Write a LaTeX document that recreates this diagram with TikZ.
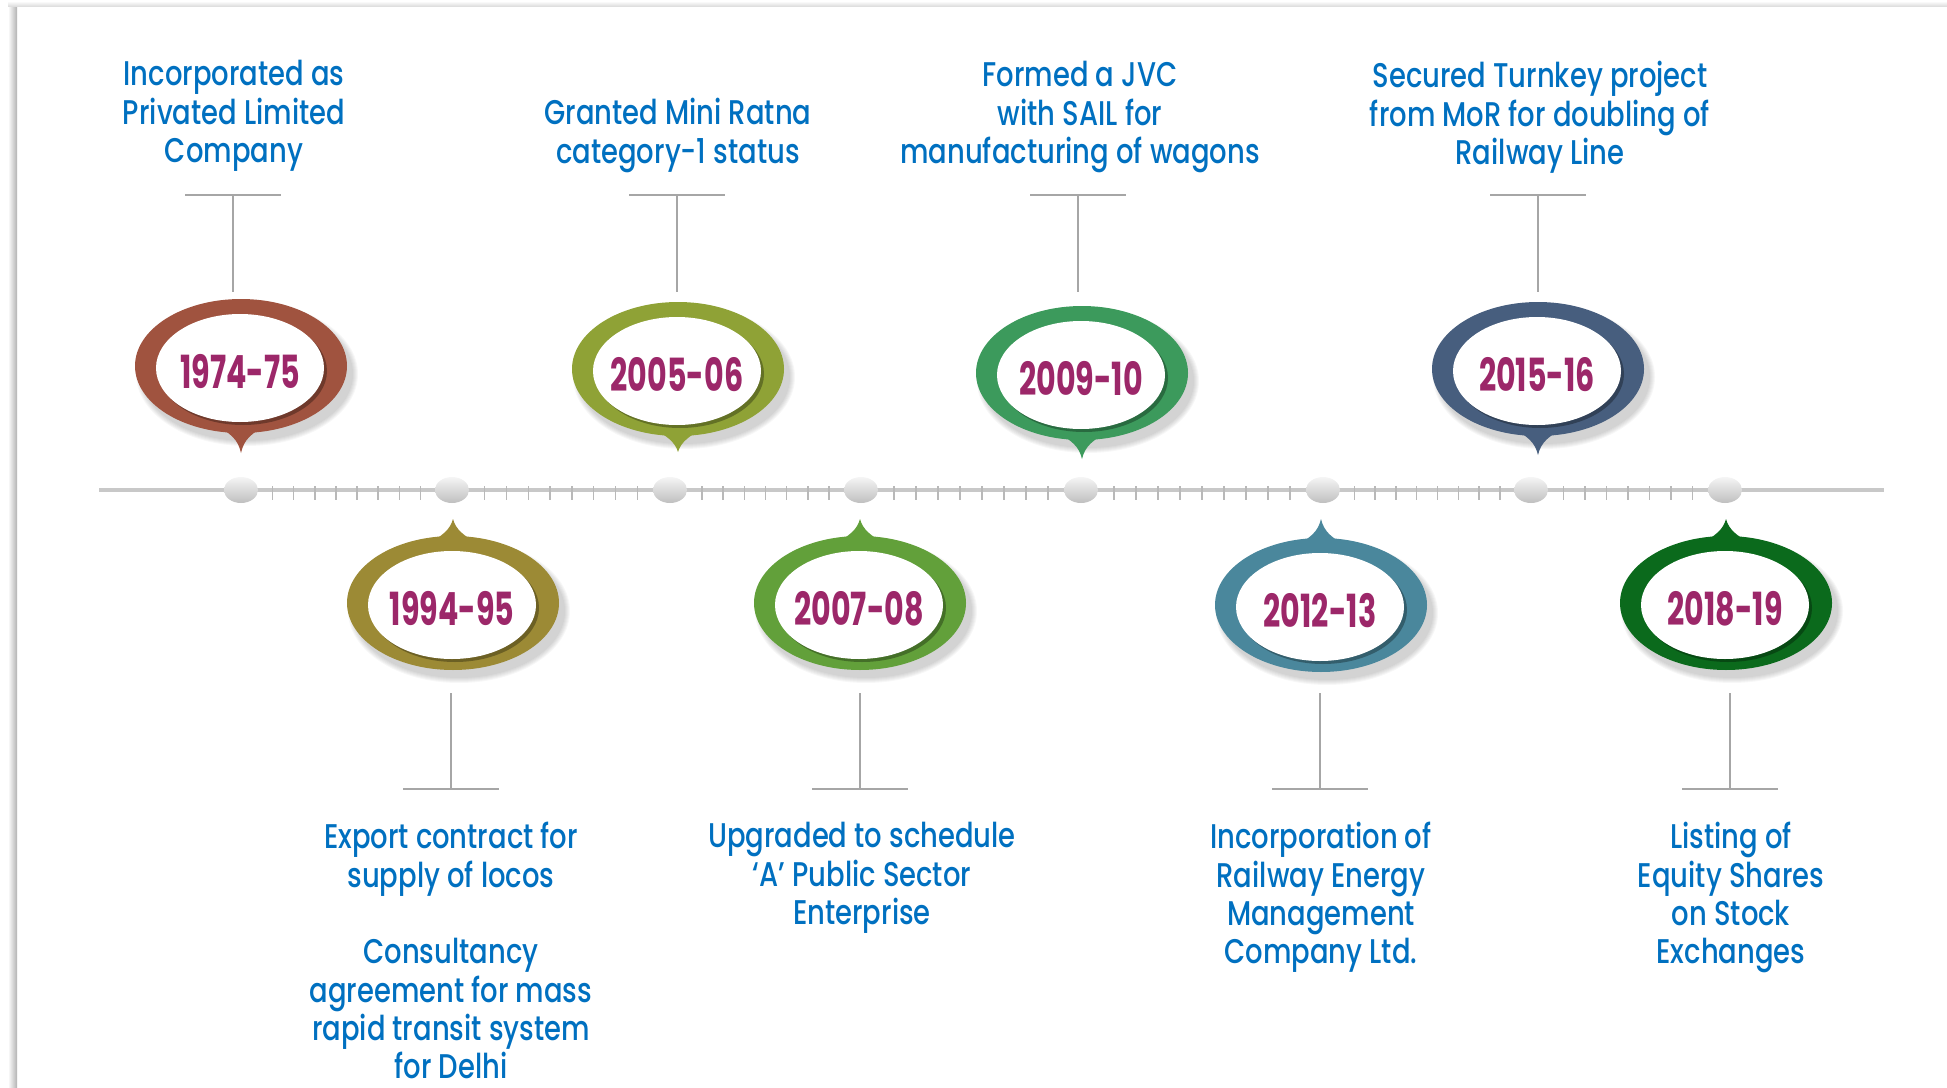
\documentclass[tikz,border=0pt]{standalone}
\usepackage{fontspec}
\setmainfont[FakeStretch=0.8]{Poppins Medium}
\newfontfamily\yearfont[FakeStretch=0.66]{Poppins Bold}
\definecolor{textblue}{HTML}{0070C0}
\definecolor{yearplum}{HTML}{9C2769}
\definecolor{stemgray}{HTML}{A6A6A6}
\definecolor{axisgray}{HTML}{C8C8C8}
\definecolor{pinbrown}{HTML}{A0533F}
\definecolor{pinochre}{HTML}{9C8A35}
\definecolor{pinolive}{HTML}{8FA236}
\definecolor{pinleaf}{HTML}{62A03A}
\definecolor{pinjade}{HTML}{3C9A5C}
\definecolor{pinteal}{HTML}{4A879C}
\definecolor{pinslate}{HTML}{475E7E}
\definecolor{pinforest}{HTML}{0B6A1C}

\begin{document}
\begin{tikzpicture}[x=0.02cm, y=-0.02cm,
  note/.style={textblue, align=center, inner sep=0pt, anchor=north,
    font=\fontsize{19.5}{21.8}\selectfont},
  yearlabel/.style={yearplum, inner sep=0pt,
    font=\yearfont\fontsize{26}{28}\selectfont},
  stem/.style={stemgray, line width=1pt},
  tickmark/.style={axisgray!80!gray, line width=0.8pt}]
  \def\rx{106}     % ring radii
  \def\ry{67}
  \def\wx{84}      % white face radii
  \def\wy{54}
  \def\liney{490}  % height of the time axis

  \useasboundingbox (0,0) rectangle (1947,1088);

  % page edge shadow
  \shade[left color=white, right color=gray!60] (8,4) rectangle (17,1088);
  \shade[top color=white, bottom color=gray!30] (8,1) rectangle (1947,7);

  % time axis
  \draw[axisgray, line width=1.8pt] (99,\liney) -- (1884,\liney);

  % ticks between the dots
  \foreach \a/\b in {241/452,452/670,670/861,861/1081,1081/1323,1323/1531,1531/1725} {
    \pgfmathtruncatemacro{\n}{round((\b-\a)/21.5)}
    \pgfmathsetmacro{\d}{(\b-\a)/\n}
    \pgfmathtruncatemacro{\m}{\n-2}
    \foreach \k in {1,...,\m}
      \draw[tickmark] ({\a+\d*(\k+0.5)},486) -- ({\a+\d*(\k+0.5)},500);
  }

  % dots on the axis
  \foreach \x in {241,452,670,861,1081,1323,1531,1725}
    \shade[top color=gray!8, bottom color=gray!50]
      (\x,\liney) ellipse [x radius=17, y radius=13];

  % pins: x / ring centre y / tip y / colour / year / name
  \foreach \x/\cy/\ty/\col/\yr/\nm in {
      241/366/453/pinbrown/1974-75/y1974,
      453/603/519/pinochre/1994-95/y1994,
      678/369/452/pinolive/2005-06/y2005,
      860/603/519/pinleaf/2007-08/y2007,
      1082/373/459/pinjade/2009-10/y2009,
      1321/605/519/pinteal/2012-13/y2012,
      1538/369/455/pinslate/2015-16/y2015,
      1726/603/519/pinforest/2018-19/y2018} {
    \pgfmathsetmacro{\dd}{ifthenelse(\ty>\cy,1,-1)}
    \pgfmathsetmacro{\by}{\cy+\dd*(\ry-8)}
    \pgfmathsetmacro{\ey}{\cy+\dd*\ry}
    % soft shadow
    \foreach \s in {0,...,5}
      \fill[black, opacity=0.03] ({\x+6},{\cy+8}) ellipse [x radius={\rx+\s}, y radius={\ry+\s}];
    % tip towards the axis
    \fill[\col] ({\x-26},\by) .. controls ({\x-11},{\ey}) and ({\x-3},{\ey+\dd*6}) .. (\x,\ty)
      .. controls ({\x+3},{\ey+\dd*6}) and ({\x+11},{\ey}) .. ({\x+26},\by) -- cycle;
    % ring, inner shade and face
    \fill[\col] (\x,\cy) ellipse [x radius=\rx, y radius=\ry];
    \fill[black, opacity=0.3] ({\x+2},{\cy+5}) ellipse [x radius=\wx, y radius=\wy];
    \fill[white] ({\x-1},{\cy+2}) ellipse [x radius=\wx, y radius=\wy];
    \node[yearlabel] (\nm) at ({\x-1},{\cy+6}) {\yr};
  }

  % connectors above the axis
  \foreach \x [count=\i] in {233,677,1078,1538} {
    \coordinate (top\i) at (\x,195);
    \coordinate (topend\i) at (\x,292);
    \draw[stem] ([xshift=-0.96cm]top\i) -- ([xshift=0.96cm]top\i);
    \draw[stem] (top\i) -- (topend\i);
  }

  % connectors below the axis
  \foreach \x [count=\i] in {451,860,1320,1730} {
    \coordinate (bot\i) at (\x,789);
    \coordinate (botend\i) at (\x,693);
    \draw[stem] ([xshift=-0.96cm]bot\i) -- ([xshift=0.96cm]bot\i);
    \draw[stem] (bot\i) -- (botend\i);
  }

  % milestones
  \node[note] (incorp)  at (234,60)   {Incorporated as\\Privated Limited\\Company};
  \node[note] (ratna)   at (678,98)   {Granted Mini Ratna\\category-1 status};
  \node[note] (jvc)     at (1080,61)  {Formed a JVC\\with SAIL for\\manufacturing of wagons};
  \node[note] (turnkey) at (1540,61)  {Secured Turnkey project\\from MoR for doubling of\\Railway Line};
  \node[note] (export)  at (451,822)  {Export contract for\\supply of locos\\[21.8pt]Consultancy\\agreement for mass\\rapid transit system\\for Delhi};
  \node[note] (upgrade) at (862,822)  {Upgraded to schedule\\‘A’ Public Sector\\Enterprise};
  \node[note] (reml)    at (1321,822) {Incorporation of\\Railway Energy\\Management\\Company Ltd.};
  \node[note] (listing) at (1731,822) {Listing of\\Equity Shares\\on Stock\\Exchanges};
\end{tikzpicture}
\end{document}
